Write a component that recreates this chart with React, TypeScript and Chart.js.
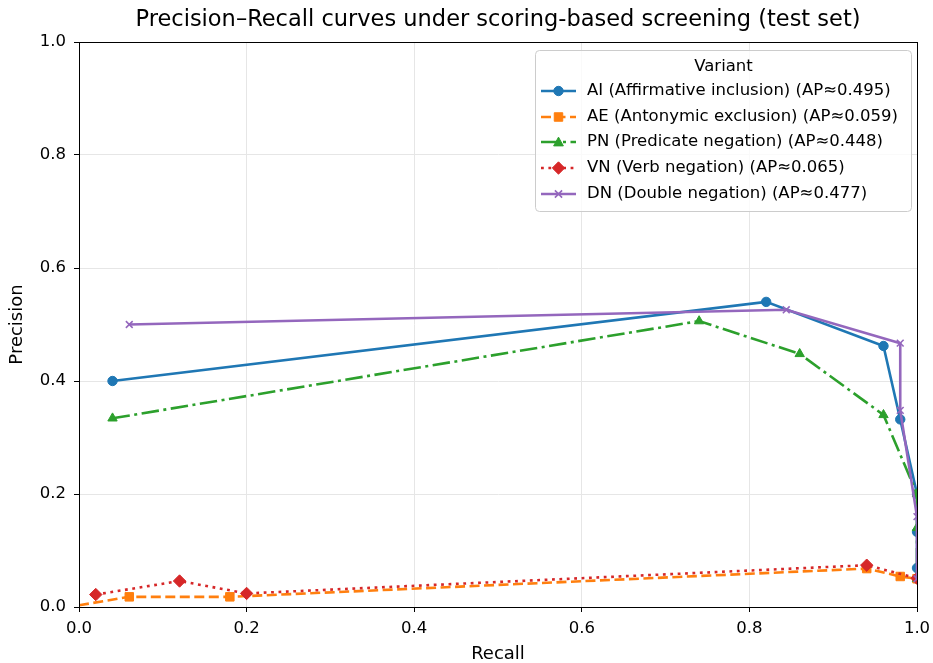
import React, { useEffect, useRef } from "react";
import { Chart, registerables } from "chart.js";

Chart.register(...registerables);

const FONT = "'DejaVu Sans', sans-serif";

const chartTitle = "Precision–Recall curves under scoring-based screening (test set)";

const seriesNames = [
  "AI (Affirmative inclusion) (AP≈0.495)",
  "AE (Antonymic exclusion) (AP≈0.059)",
  "PN (Predicate negation) (AP≈0.448)",
  "VN (Verb negation) (AP≈0.065)",
  "DN (Double negation) (AP≈0.477)",
];

const aiRecall = [0.04, 0.82, 0.96, 0.98, 1.0, 1.0, 1.0, 1.0];
const aiPrecision = [0.4, 0.54, 0.462, 0.332, 0.2, 0.133, 0.069, 0.05];

const aeRecall = [0.0, 0.06, 0.18, 0.94, 0.98, 1.0];
const aePrecision = [0.003, 0.018, 0.018, 0.068, 0.054, 0.05];

const pnRecall = [0.04, 0.74, 0.86, 0.96, 1.0, 1.0, 1.0];
const pnPrecision = [0.334, 0.506, 0.448, 0.34, 0.2, 0.14, 0.05];

const vnRecall = [0.02, 0.12, 0.2, 0.94, 1.0];
const vnPrecision = [0.022, 0.046, 0.024, 0.074, 0.051];

const dnRecall = [0.06, 0.844, 0.98, 0.98, 1.0, 1.0];
const dnPrecision = [0.5, 0.526, 0.467, 0.348, 0.16, 0.05];

const xTicks = [0, 0.2, 0.4, 0.6, 0.8, 1.0];
const yTicks = [0, 0.2, 0.4, 0.6, 0.8, 1.0];

const colors = ["#1f77b4", "#ff7f0e", "#2ca02c", "#d62728", "#9467bd"];
const dashes: number[][] = [[], [10, 4.5], [17.5, 4.5, 3, 4.5], [2.8, 4.6], []];
const pointStyles = ["circle", "rect", "triangle", "rectRot", "crossRot"];
const pointRadii = [4.7, 6.0, 5.4, 6.2, 4.8];

function zip(xs: number[], ys: number[]) {
  return xs.map((x, i) => ({ x, y: ys[i] }));
}

const framePlugin = {
  id: "frame",
  afterDatasetsDraw(chart: any) {
    const { ctx, chartArea } = chart;
    ctx.save();
    ctx.strokeStyle = "#000";
    ctx.lineWidth = 1;
    ctx.strokeRect(
      Math.round(chartArea.left) + 0.5,
      Math.round(chartArea.top) + 0.5,
      Math.round(chartArea.right - chartArea.left),
      Math.round(chartArea.bottom - chartArea.top)
    );
    ctx.restore();
  },
};

const titlePlugin = {
  id: "axTitle",
  afterDraw(chart: any) {
    const { ctx, chartArea } = chart;
    ctx.save();
    ctx.fillStyle = "#000";
    ctx.font = `22.5px ${FONT}`;
    ctx.textAlign = "center";
    ctx.textBaseline = "middle";
    ctx.fillText(chartTitle, (chartArea.left + chartArea.right) / 2, 20);
    ctx.restore();
  },
};

function drawMarker(ctx: CanvasRenderingContext2D, style: string, x: number, y: number, r: number, color: string) {
  ctx.save();
  ctx.setLineDash([]);
  ctx.fillStyle = color;
  ctx.strokeStyle = color;
  ctx.lineWidth = style === "crossRot" ? 1.6 : 1;
  ctx.beginPath();
  if (style === "circle") {
    ctx.arc(x, y, r, 0, Math.PI * 2);
    ctx.fill();
    ctx.stroke();
  } else if (style === "rect") {
    const s = Math.SQRT1_2 * r;
    ctx.rect(x - s, y - s, 2 * s, 2 * s);
    ctx.fill();
    ctx.stroke();
  } else if (style === "triangle") {
    const h = r * 0.9;
    ctx.moveTo(x, y - h);
    ctx.lineTo(x + h, y + h * 0.8);
    ctx.lineTo(x - h, y + h * 0.8);
    ctx.closePath();
    ctx.fill();
    ctx.stroke();
  } else if (style === "rectRot") {
    ctx.moveTo(x, y - r);
    ctx.lineTo(x + r, y);
    ctx.lineTo(x, y + r);
    ctx.lineTo(x - r, y);
    ctx.closePath();
    ctx.fill();
    ctx.stroke();
  } else if (style === "crossRot") {
    const s = r * 0.75;
    ctx.moveTo(x - s, y - s);
    ctx.lineTo(x + s, y + s);
    ctx.moveTo(x + s, y - s);
    ctx.lineTo(x - s, y + s);
    ctx.stroke();
  }
  ctx.restore();
}

const legendPlugin = {
  id: "mplLegend",
  afterDraw(chart: any) {
    const { ctx } = chart;
    const bx = 535.5, by = 50.5, bw = 376, bh = 161, rr = 4;
    ctx.save();
    ctx.beginPath();
    ctx.moveTo(bx + rr, by);
    ctx.lineTo(bx + bw - rr, by);
    ctx.quadraticCurveTo(bx + bw, by, bx + bw, by + rr);
    ctx.lineTo(bx + bw, by + bh - rr);
    ctx.quadraticCurveTo(bx + bw, by + bh, bx + bw - rr, by + bh);
    ctx.lineTo(bx + rr, by + bh);
    ctx.quadraticCurveTo(bx, by + bh, bx, by + bh - rr);
    ctx.lineTo(bx, by + rr);
    ctx.quadraticCurveTo(bx, by, bx + rr, by);
    ctx.closePath();
    ctx.fillStyle = "rgba(255,255,255,0.8)";
    ctx.fill();
    ctx.strokeStyle = "#cccccc";
    ctx.lineWidth = 1;
    ctx.stroke();

    ctx.fillStyle = "#000";
    ctx.font = `16.5px ${FONT}`;
    ctx.textBaseline = "middle";
    ctx.textAlign = "center";
    ctx.fillText("Variant", bx + bw / 2, 67);

    const rows = [91, 117, 142, 168, 194];
    ctx.textAlign = "left";
    seriesNames.forEach((name, i) => {
      const y = rows[i];
      ctx.save();
      ctx.strokeStyle = colors[i];
      ctx.lineWidth = 2.6;
      ctx.setLineDash(dashes[i]);
      ctx.beginPath();
      ctx.moveTo(541, y);
      ctx.lineTo(576, y);
      ctx.stroke();
      ctx.restore();
      drawMarker(ctx, pointStyles[i], 558.5, y, pointRadii[i], colors[i]);
      ctx.fillStyle = "#000";
      ctx.fillText(name, 587, y);
    });
    ctx.restore();
  },
};

export default function App() {
  const ref = useRef<HTMLCanvasElement>(null);

  useEffect(() => {
    if (!ref.current) return;
    const sets = [
      zip(aiRecall, aiPrecision),
      zip(aeRecall, aePrecision),
      zip(pnRecall, pnPrecision),
      zip(vnRecall, vnPrecision),
      zip(dnRecall, dnPrecision),
    ];
    const chart = new Chart(ref.current, {
      type: "line",
      data: {
        datasets: sets.map((d, i) => ({
          label: seriesNames[i],
          data: d,
          borderColor: colors[i],
          backgroundColor: colors[i],
          borderWidth: 2.6,
          borderDash: dashes[i],
          pointStyle: pointStyles[i] as any,
          pointRadius: i === 1 ? d.map((_, j) => (j === 0 ? 0 : pointRadii[i])) : pointRadii[i],
          pointBorderWidth: i === 4 ? 1.6 : 1,
          pointBackgroundColor: colors[i],
          pointBorderColor: colors[i],
          fill: false,
          tension: 0,
          order: 4 - i,
        })),
      },
      options: {
        animation: false,
        responsive: false,
        maintainAspectRatio: false,
        layout: { padding: { left: 0, right: 16, top: 42, bottom: 0 } },
        plugins: {
          legend: { display: false },
          tooltip: { enabled: false },
          title: { display: false },
        },
        scales: {
          x: {
            type: "linear",
            min: 0,
            max: 1,
            afterBuildTicks: (s: any) => {
              s.ticks = xTicks.map((v) => ({ value: v }));
            },
            afterFit: (s: any) => {
              s.height = 56;
              s.paddingRight = 0;
              s.paddingLeft = 0;
            },
            ticks: {
              color: "#000",
              font: { family: FONT, size: 16.5 },
              padding: 7,
              maxRotation: 0,
              callback: (v: any) => Number(v).toFixed(1),
            },
            grid: { color: "#e6e6e6", tickColor: "#000", tickLength: 5, lineWidth: 1 },
            border: { color: "#000", width: 1 },
            title: {
              display: true,
              text: "Recall",
              color: "#000",
              font: { family: FONT, size: 18, lineHeight: 1 },
              padding: { top: 0, bottom: 0 },
            },
          },
          y: {
            type: "linear",
            min: 0,
            max: 1,
            afterBuildTicks: (s: any) => {
              s.ticks = yTicks.map((v) => ({ value: v }));
            },
            afterFit: (s: any) => {
              s.width = 79;
              s.paddingTop = 0;
              s.paddingBottom = 0;
            },
            ticks: {
              color: "#000",
              font: { family: FONT, size: 16.5 },
              padding: 8,
              callback: (v: any) => Number(v).toFixed(1),
            },
            grid: { color: "#e6e6e6", tickColor: "#000", tickLength: 5, lineWidth: 1 },
            border: { color: "#000", width: 1 },
            title: {
              display: true,
              text: "Precision",
              color: "#000",
              font: { family: FONT, size: 18, lineHeight: 1 },
              padding: { top: 8.5, bottom: 0 },
            },
          },
        },
      },
      plugins: [framePlugin, legendPlugin, titlePlugin],
    });
    return () => chart.destroy();
  }, []);

  return (
    <div style={{ position: "absolute", left: 0, top: 0, width: 933, height: 663, background: "#fff" }}>
      <canvas ref={ref} width={933} height={663} style={{ width: 933, height: 663, display: "block" }} />
    </div>
  );
}
